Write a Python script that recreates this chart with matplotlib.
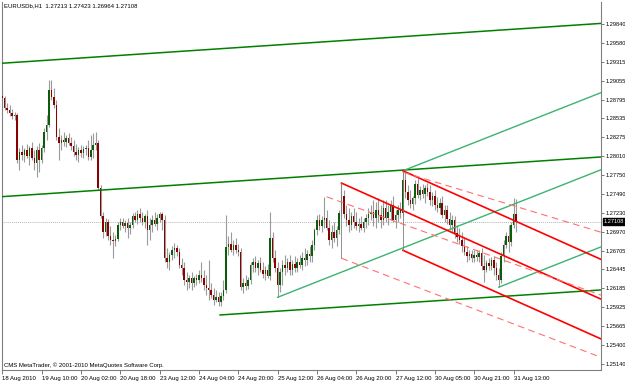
import numpy as np
import matplotlib
matplotlib.use("Agg")
import matplotlib.pyplot as plt

# EURUSD H1, 18 Aug 2010 18:00 .. 31 Aug 2010 (one value per bar)
first_open = 1.2884
closes = [
    1.2882, 1.2868, 1.2865, 1.2861, 1.2857, 1.2858, 1.2796, 1.2807, 1.2803, 1.2810,
    1.2801, 1.2813, 1.2799, 1.2792, 1.2810, 1.2796, 1.2813, 1.2835, 1.2844, 1.2893,
    1.2883, 1.2872, 1.2828, 1.2819, 1.2824, 1.2821, 1.2826, 1.2819, 1.2815, 1.2807,
    1.2803, 1.2810, 1.2806, 1.2811, 1.2813, 1.2800, 1.2810, 1.2817, 1.2819, 1.2757,
    1.2718, 1.2696, 1.2710, 1.2691, 1.2685, 1.2684, 1.2687, 1.2706, 1.2710, 1.2705,
    1.2709, 1.2702, 1.2706, 1.2718, 1.2713, 1.2721, 1.2716, 1.2710, 1.2718, 1.2699,
    1.2706, 1.2713, 1.2707, 1.2716, 1.2721, 1.2713, 1.2660, 1.2655, 1.2665, 1.2671,
    1.2674, 1.2669, 1.2651, 1.2647, 1.2630, 1.2627, 1.2633, 1.2626, 1.2633, 1.2630,
    1.2637, 1.2633, 1.2623, 1.2619, 1.2616, 1.2609, 1.2602, 1.2606, 1.2600, 1.2608,
    1.2616, 1.2676, 1.2680, 1.2671, 1.2678, 1.2671, 1.2669, 1.2620, 1.2626, 1.2622,
    1.2630, 1.2651, 1.2655, 1.2647, 1.2653, 1.2644, 1.2638, 1.2644, 1.2636, 1.2688,
    1.2660, 1.2647, 1.2623, 1.2641, 1.2651, 1.2647, 1.2655, 1.2644, 1.2652, 1.2647,
    1.2655, 1.2651, 1.2660, 1.2658, 1.2666, 1.2663, 1.2678, 1.2699, 1.2713, 1.2705,
    1.2713, 1.2716, 1.2702, 1.2685, 1.2696, 1.2688, 1.2699, 1.2723, 1.2746, 1.2721,
    1.2713, 1.2706, 1.2718, 1.2710, 1.2705, 1.2707, 1.2702, 1.2710, 1.2716, 1.2721,
    1.2724, 1.2716, 1.2727, 1.2720, 1.2713, 1.2730, 1.2716, 1.2724, 1.2734, 1.2713,
    1.2720, 1.2727, 1.2723, 1.2768, 1.2752, 1.2741, 1.2735, 1.2743, 1.2763, 1.2747,
    1.2754, 1.2749, 1.2757, 1.2752, 1.2741, 1.2746, 1.2734, 1.2730, 1.2736, 1.2720,
    1.2727, 1.2714, 1.2706, 1.2713, 1.2695, 1.2689, 1.2685, 1.2677, 1.2669, 1.2663,
    1.2666, 1.2660, 1.2665, 1.2662, 1.2667, 1.2649, 1.2644, 1.2653, 1.2649, 1.2658,
    1.2647, 1.2637, 1.2630, 1.2663, 1.2678, 1.2691, 1.2683, 1.2706, 1.2721, 1.27108,
]
highs = [
    1.2893, 1.2884, 1.2875, 1.2872, 1.2866, 1.2862, 1.2861, 1.2813, 1.2817, 1.2813,
    1.2818, 1.2815, 1.2821, 1.2810, 1.2815, 1.2819, 1.2817, 1.2840, 1.2858, 1.2907,
    1.2907, 1.2896, 1.2879, 1.2840, 1.2830, 1.2835, 1.2830, 1.2833, 1.2828, 1.2824,
    1.2818, 1.2814, 1.2817, 1.2815, 1.2817, 1.2824, 1.2830, 1.2833, 1.2835, 1.2824,
    1.2761, 1.2724, 1.2716, 1.2714, 1.2705, 1.2696, 1.2692, 1.2710, 1.2716, 1.2716,
    1.2713, 1.2716, 1.2710, 1.2723, 1.2724, 1.2727, 1.2730, 1.2724, 1.2721, 1.2727,
    1.2716, 1.2720, 1.2724, 1.2721, 1.2724, 1.2724, 1.2720, 1.2674, 1.2669, 1.2677,
    1.2681, 1.2678, 1.2674, 1.2660, 1.2655, 1.2641, 1.2637, 1.2641, 1.2636, 1.2638,
    1.2644, 1.2655, 1.2644, 1.2637, 1.2658, 1.2626, 1.2619, 1.2616, 1.2613, 1.2613,
    1.2630, 1.2720, 1.2691, 1.2696, 1.2685, 1.2688, 1.2680, 1.2674, 1.2633, 1.2637,
    1.2634, 1.2655, 1.2660, 1.2663, 1.2658, 1.2662, 1.2655, 1.2649, 1.2652, 1.2724,
    1.2696, 1.2671, 1.2655, 1.2647, 1.2658, 1.2665, 1.2660, 1.2665, 1.2658, 1.2663,
    1.2660, 1.2665, 1.2669, 1.2674, 1.2671, 1.2677, 1.2685, 1.2702, 1.2720, 1.2721,
    1.2718, 1.2745, 1.2727, 1.2713, 1.2706, 1.2710, 1.2705, 1.2727, 1.2764, 1.2754,
    1.2734, 1.2730, 1.2724, 1.2730, 1.2724, 1.2716, 1.2718, 1.2716, 1.2721, 1.2730,
    1.2734, 1.2741, 1.2738, 1.2743, 1.2734, 1.2741, 1.2741, 1.2734, 1.2741, 1.2746,
    1.2727, 1.2734, 1.2738, 1.2781, 1.2779, 1.2761, 1.2754, 1.2746, 1.2768, 1.2771,
    1.2760, 1.2763, 1.2761, 1.2764, 1.2761, 1.2752, 1.2754, 1.2745, 1.2743, 1.2746,
    1.2734, 1.2734, 1.2724, 1.2720, 1.2718, 1.2706, 1.2702, 1.2696, 1.2688, 1.2677,
    1.2671, 1.2671, 1.2671, 1.2671, 1.2671, 1.2674, 1.2665, 1.2658, 1.2660, 1.2662,
    1.2663, 1.2655, 1.2647, 1.2669, 1.2685, 1.2696, 1.2706, 1.2710, 1.2743, 1.27423,
]
lows = [
    1.2879, 1.2865, 1.2861, 1.2857, 1.2853, 1.2851, 1.2792, 1.2782, 1.2796, 1.2793,
    1.2799, 1.2789, 1.2796, 1.2782, 1.2772, 1.2779, 1.2792, 1.2807, 1.2824, 1.2842,
    1.2879, 1.2868, 1.2824, 1.2796, 1.2810, 1.2815, 1.2814, 1.2817, 1.2810, 1.2801,
    1.2796, 1.2793, 1.2800, 1.2799, 1.2803, 1.2796, 1.2796, 1.2799, 1.2810, 1.2754,
    1.2716, 1.2688, 1.2691, 1.2685, 1.2678, 1.2660, 1.2677, 1.2684, 1.2699, 1.2702,
    1.2696, 1.2688, 1.2694, 1.2702, 1.2710, 1.2707, 1.2710, 1.2706, 1.2702, 1.2678,
    1.2685, 1.2696, 1.2705, 1.2699, 1.2710, 1.2699, 1.2655, 1.2647, 1.2644, 1.2658,
    1.2660, 1.2663, 1.2647, 1.2637, 1.2623, 1.2616, 1.2619, 1.2616, 1.2620, 1.2623,
    1.2626, 1.2627, 1.2616, 1.2609, 1.2602, 1.2605, 1.2595, 1.2600, 1.2594, 1.2594,
    1.2602, 1.2612, 1.2665, 1.2669, 1.2665, 1.2667, 1.2663, 1.2616, 1.2612, 1.2616,
    1.2618, 1.2624, 1.2641, 1.2641, 1.2637, 1.2641, 1.2633, 1.2630, 1.2633, 1.2630,
    1.2655, 1.2641, 1.2606, 1.2613, 1.2623, 1.2637, 1.2641, 1.2637, 1.2637, 1.2641,
    1.2641, 1.2647, 1.2644, 1.2649, 1.2651, 1.2655, 1.2655, 1.2671, 1.2692, 1.2699,
    1.2696, 1.2702, 1.2699, 1.2678, 1.2674, 1.2683, 1.2677, 1.2694, 1.2718, 1.2716,
    1.2705, 1.2696, 1.2699, 1.2702, 1.2699, 1.2696, 1.2699, 1.2696, 1.2702, 1.2706,
    1.2713, 1.2705, 1.2702, 1.2710, 1.2702, 1.2706, 1.2710, 1.2706, 1.2713, 1.2710,
    1.2702, 1.2710, 1.2716, 1.2718, 1.2743, 1.2734, 1.2730, 1.2727, 1.2735, 1.2743,
    1.2741, 1.2743, 1.2736, 1.2746, 1.2734, 1.2732, 1.2727, 1.2724, 1.2721, 1.2716,
    1.2710, 1.2707, 1.2699, 1.2696, 1.2688, 1.2683, 1.2680, 1.2669, 1.2665, 1.2655,
    1.2658, 1.2655, 1.2655, 1.2656, 1.2655, 1.2644, 1.2627, 1.2641, 1.2644, 1.2644,
    1.2637, 1.2630, 1.2620, 1.2626, 1.2655, 1.2674, 1.2669, 1.2677, 1.2702, 1.26964,
]

time_tick_bars = [0, 16, 32, 48, 64, 80, 96, 112, 128, 144, 160, 176, 192, 208]
time_tick_labels = ["18 Aug 2010", "19 Aug 10:00", "20 Aug 02:00", "20 Aug 18:00",
                    "23 Aug 12:00", "24 Aug 04:00", "24 Aug 20:00", "25 Aug 12:00",
                    "26 Aug 04:00", "26 Aug 20:00", "27 Aug 12:00", "30 Aug 05:00",
                    "30 Aug 21:00", "31 Aug 13:00"]
price_ticks = [1.29840, 1.29580, 1.29315, 1.29055, 1.28795, 1.28535, 1.28275,
               1.28010, 1.27750, 1.27490, 1.27230, 1.26970, 1.26705, 1.26445,
               1.26185, 1.25925, 1.25665, 1.25400, 1.25140]
bid = 1.27108

# equidistant channel (dark green): (bar, price) start and end of each line
channel_lines = [
    [(-0.12, 1.29297), (243.6, 1.29848)],
    [(-0.12, 1.27452), (243.6, 1.28001)],
    [(88.6, 1.25816), (243.6, 1.26162)],
]
# Andrews pitchforks: handle point, then the two tine points
fork_green = [(112, 1.2606), (163, 1.2781), (202, 1.2620)]
fork_red = [(138, 1.2764), (163, 1.2781), (163, 1.2671)]
# dashed red lines (bar, price) start / end
dashed_lines = [
    [(132.0, 1.2745), (243.6, 1.2609)],
    [(138.0, 1.2660), (243.6, 1.2523)],
    [(163.0, 1.2779), (243.6, 1.2696)],
]
fork_handles = [
    [(138.0, 1.2764), (138.0, 1.2660)],
    [(163.0, 1.2781), (163.0, 1.2671)],
]

opens = [first_open] + closes[:-1]

W, H = 625, 382
fig = plt.figure(figsize=(W / 100, H / 100), dpi=100)
ax = fig.add_axes([2 / W, 12 / H, 599 / W, 368 / H])
x_min, x_max = -0.12, 243.6
ax.set_xlim(x_min, x_max)
ax.set_ylim(1.25055, 1.30144)

font = ["Liberation Sans Narrow", "Liberation Sans", "DejaVu Sans"]

# candles
idx = np.arange(len(closes))
o = np.array(opens)
c = np.array(closes)
h = np.array(highs)
l = np.array(lows)
up = c >= o
ax.vlines(idx, l, h, color="#9a9a9a", lw=0.8, zorder=2)
body_lo = np.minimum(o, c)
body_h = np.maximum(np.abs(c - o), 0.00006)
ax.bar(idx[up], body_h[up], 0.6, body_lo[up], color="#0b5d0b", lw=0, zorder=3)
ax.bar(idx[~up], body_h[~up], 0.6, body_lo[~up], color="#8b0000", lw=0, zorder=3)

# bid line
ax.axhline(bid, color="#b4b4b4", lw=0.7, ls=(0, (1, 1)), zorder=1)

# channel
for (x0, y0), (x1, y1) in channel_lines:
    ax.plot([x0, x1], [y0, y1], color="#008000", lw=1.1, zorder=4)


def draw_fork(pts, color, lw, ls="-"):
    (x1, y1), (x2, y2), (x3, y3) = pts
    mx, my = (x2 + x3) / 2, (y2 + y3) / 2
    slope = (my - y1) / (mx - x1)
    for (sx, sy) in [(x1, y1), (x2, y2), (x3, y3)]:
        ax.plot([sx, x_max], [sy, sy + slope * (x_max - sx)], color=color,
                lw=lw, ls=ls, zorder=4)


draw_fork(fork_green, "#3cb371", 1.0)
draw_fork(fork_red, "#ff0000", 1.2)
for (x0, y0), (x1, y1) in dashed_lines:
    ax.plot([x0, x1], [y0, y1], color="#ff7070", lw=0.8, ls=(0, (6, 4)), zorder=4)
for (x0, y0), (x1, y1) in fork_handles:
    ax.plot([x0, x1], [y0, y1], color="#808080", lw=0.6, zorder=4)

# axes styling
ax.spines["top"].set_visible(False)
for side in ["left", "right", "bottom"]:
    ax.spines[side].set_color("#808080")
    ax.spines[side].set_linewidth(0.8)

ax.set_xticks(time_tick_bars)
ax.set_xticklabels(time_tick_labels, ha="left", fontfamily=font, fontsize=4.3)
ax.tick_params(axis="x", length=3, width=0.6, color="#606060", pad=1)
ax.yaxis.tick_right()
ax.set_yticks(price_ticks)
ax.set_yticklabels([f"{p:.5f}" for p in price_ticks], fontfamily=font, fontsize=4.1)
ax.tick_params(axis="y", length=2, width=0.6, color="#606060", pad=1)

ax.annotate(f"{bid:.5f}", xy=(1.0, bid), xycoords=("axes fraction", "data"),
            xytext=(2.2, 0), textcoords="offset points", va="center", ha="left",
            fontfamily=font, fontsize=4.1, color="white",
            bbox=dict(boxstyle="square,pad=0.12", fc="black", ec="black"))

ax.text(0.003, 0.997, "EURUSDb,H1  1.27213 1.27423 1.26964 1.27108",
        transform=ax.transAxes, va="top", ha="left", fontfamily=font, fontsize=4.3)
ax.text(0.003, 0.005, "CMS MetaTrader, \u00a9 2001-2010 MetaQuotes Software Corp.",
        transform=ax.transAxes, va="bottom", ha="left", fontfamily=font, fontsize=4.3)

fig.savefig("out.png", dpi=100, facecolor="white")
